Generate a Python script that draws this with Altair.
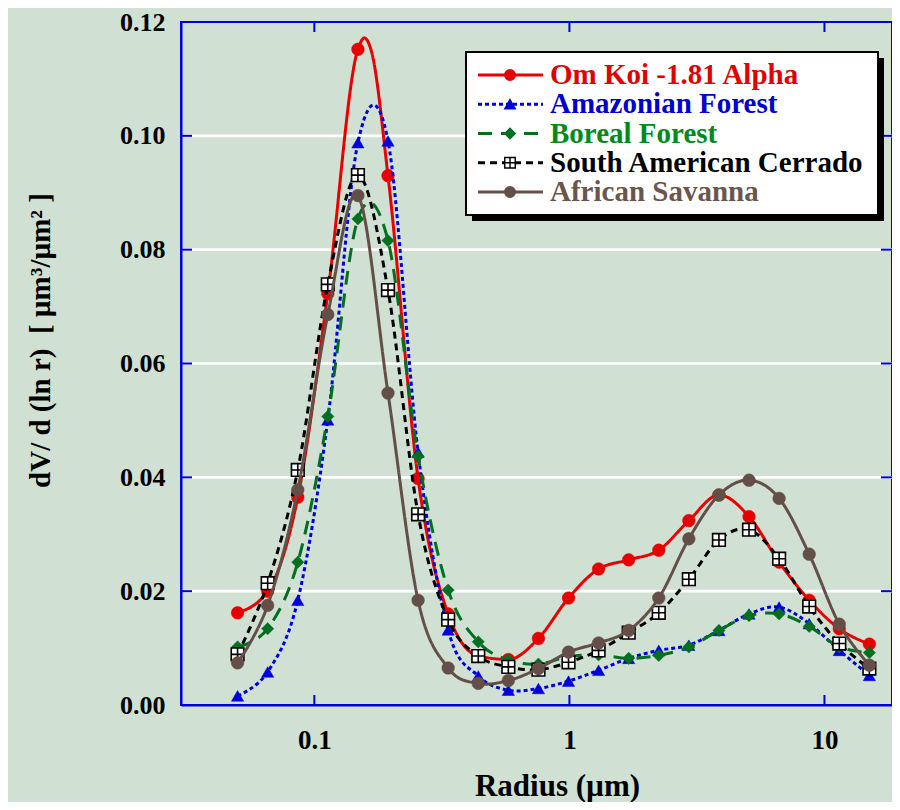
import altair as alt
import pandas as pd

# radius bins (um) where the markers sit
radius = [0.05, 0.0656, 0.0861, 0.1129, 0.1482, 0.1944, 0.2551, 0.3347, 0.4392,
          0.5762, 0.7561, 0.992, 1.3016, 1.7078, 2.2407, 2.94, 3.8575, 5.0613,
          6.6407, 8.7131, 11.4323, 15.0]

# dV/dlnr, one list per series
om_koi = [0.0162, 0.0200, 0.0365, 0.0723, 0.1152, 0.0930, 0.0398, 0.0160, 0.0086,
          0.0080, 0.0117, 0.0188, 0.0239, 0.0255, 0.0272, 0.0324, 0.0369, 0.0331,
          0.0251, 0.0184, 0.0134, 0.0107]
amazon = [0.0016, 0.0058, 0.0184, 0.0501, 0.0988, 0.0991, 0.0444, 0.0132, 0.0051,
          0.0026, 0.0029, 0.0042, 0.0061, 0.0082, 0.0096, 0.0105, 0.0131, 0.0160,
          0.0172, 0.0143, 0.0096, 0.0052]
boreal = [0.0102, 0.0134, 0.0251, 0.0507, 0.0854, 0.0816, 0.0437, 0.0202, 0.0111,
          0.0079, 0.0072, 0.0085, 0.0088, 0.0082, 0.0087, 0.0102, 0.0131, 0.0157,
          0.0160, 0.0138, 0.0102, 0.0092]
cerrado = [0.0089, 0.0214, 0.0413, 0.0739, 0.0931, 0.0729, 0.0335, 0.0150, 0.0086,
           0.0067, 0.0062, 0.0075, 0.0096, 0.0127, 0.0162, 0.0221, 0.0290, 0.0308,
           0.0257, 0.0173, 0.0108, 0.0064]
savanna = [0.0074, 0.0175, 0.0378, 0.0686, 0.0895, 0.0548, 0.0184, 0.0065, 0.0038,
           0.0043, 0.0064, 0.0093, 0.0109, 0.0131, 0.0188, 0.0292, 0.0369, 0.0395,
           0.0363, 0.0265, 0.0142, 0.0070]

# the Om Koi curve has two extra (unmarked) vertices at its peak
om_koi_peak_r = [0.157, 0.168]
om_koi_peak_v = [0.1172, 0.1146]

names = ["Om Koi -1.81 Alpha", "Amazonian Forest", "Boreal Forest",
         "South American Cerrado", "African Savanna"]
y_ticks = [0.0, 0.02, 0.04, 0.06, 0.08, 0.10, 0.12]
grid_values = [0.02, 0.04, 0.06, 0.08, 0.10]
x_ticks = [0.1, 1, 10]

# styles
line_colors = ["#e60000", "#0000dd", "#007020", "#000000", "#644e48"]
text_colors = ["#e00000", "#0000cc", "#008a1a", "#000000", "#6b564e"]
dashes = [[1, 0], [4, 3], [14, 9], [7, 5], [1, 0]]
curves = ["monotone", "cardinal", "cardinal", "cardinal", "cardinal"]
SQ_CROSS = "M-1,-1H1V1H-1Z M0,-1V1 M-1,0H1"
shapes = ["circle", "triangle-up", "diamond", SQ_CROSS, "circle"]
fills = ["#e60000", "#0000dd", "#007020", "#ffffff", "#644e48"]
strokes = ["#e60000", "#0000dd", "#007020", "#000000", "#644e48"]
sizes = [160, 150, 150, 160, 160]

W, H = 711, 683
AXIS_BLUE = "#0000dd"
FONT = "Liberation Serif"
BG = "#d0e0d3"

x_scale = alt.Scale(type="log", domain=[0.03, 18.4], nice=False)
y_scale = alt.Scale(domain=[0, 0.12], nice=False, zero=True)

y_axis = alt.Axis(values=y_ticks, format=".2f", grid=False, ticks=False,
                  domainColor=AXIS_BLUE, domainWidth=2, zindex=1,
                  labelFont=FONT, labelFontSize=26, labelFontWeight="bold",
                  labelColor="black", labelPadding=16, labelFlush=False,
                  labelOverlap=False,
                  title="dV/ d (ln r) \u00a0[ µm³/µm² ]", titleFont=FONT,
                  titleFontSize=29, titleFontWeight="bold", titleColor="black",
                  titleX=-141, titleY=318, titleAngle=270, titleAlign="center",
                  titleBaseline="middle")
x_axis = alt.Axis(values=x_ticks, format="~g", grid=False, ticks=False,
                  domainColor=AXIS_BLUE, domainWidth=2, zindex=1,
                  labelFont=FONT, labelFontSize=27, labelFontWeight="bold",
                  labelColor="black", labelPadding=22, labelFlush=False,
                  labelOverlap=False,
                  title="Radius (µm)", titleFont=FONT, titleFontSize=31,
                  titleFontWeight="bold", titleColor="black",
                  titleX=376, titleY=90, titleAlign="center",
                  titleBaseline="alphabetic")


def xe(field):
    return alt.X(field, scale=x_scale, axis=x_axis)


def ye(field):
    return alt.Y(field, scale=y_scale, axis=y_axis)


# white horizontal gridlines
grid = alt.Chart(pd.DataFrame({"v": grid_values})).mark_rule(
    color="white", strokeWidth=2.6
).encode(y=ye("v:Q"), x=alt.value(0), x2=alt.value(W))

layers = [grid]

series = [om_koi, amazon, boreal, cerrado, savanna]
for i, (name, vals) in enumerate(zip(names, series)):
    df = pd.DataFrame({"r": radius, "v": vals, "marked": True})
    if i == 0:
        extra = pd.DataFrame({"r": om_koi_peak_r, "v": om_koi_peak_v, "marked": False})
        df = pd.concat([df, extra]).sort_values("r")
    line = alt.Chart(df).mark_line(
        color=line_colors[i], strokeWidth=3, strokeDash=dashes[i],
        interpolate=curves[i]
    ).encode(x=xe("r:Q"), y=ye("v:Q"), order="r:Q")
    pts = alt.Chart(df[df["marked"]]).mark_point(
        shape=shapes[i], size=sizes[i], filled=True, fill=fills[i],
        stroke=strokes[i], strokeWidth=1.6 if i == 3 else 0.5, opacity=1
    ).encode(x=xe("r:Q"), y=ye("v:Q"))
    layers += [line, pts]

# inward ticks on all four sides
y_df = pd.DataFrame({"v": y_ticks})
x_df = pd.DataFrame({"r": x_ticks})
tick_left = alt.Chart(y_df).mark_rule(color=AXIS_BLUE, strokeWidth=2).encode(
    y=ye("v:Q"), x=alt.value(0), x2=alt.value(11))
tick_right = alt.Chart(y_df).mark_rule(color=AXIS_BLUE, strokeWidth=2).encode(
    y=ye("v:Q"), x=alt.value(W - 11), x2=alt.value(W))
tick_bottom = alt.Chart(x_df).mark_rule(color=AXIS_BLUE, strokeWidth=2).encode(
    x=xe("r:Q"), y=alt.value(H - 10), y2=alt.value(H))
tick_top = alt.Chart(x_df).mark_rule(color=AXIS_BLUE, strokeWidth=2).encode(
    x=xe("r:Q"), y=alt.value(0), y2=alt.value(10))
layers += [tick_left, tick_right, tick_bottom, tick_top]

main = alt.layer(*layers)

# hand-built legend box
leg_df = pd.DataFrame({"name": names, "row": list(range(len(names))),
                       "line_color": line_colors, "text_color": text_colors})
leg_y = alt.Y("row:Q", scale=alt.Scale(domain=[0, 4], range=[53, 170]), axis=None)
one = pd.DataFrame({"box": [0]})

shadow = alt.Chart(one).mark_rect(color="black").encode(
    x=alt.value(291), x2=alt.value(703), y=alt.value(36), y2=alt.value(199))
box = alt.Chart(one).mark_rect(fill="white", stroke="black", strokeWidth=2).encode(
    x=alt.value(285), x2=alt.value(697), y=alt.value(30), y2=alt.value(193))
leg_lines = alt.Chart(leg_df).mark_rule(strokeWidth=3).encode(
    y=leg_y, x=alt.value(297), x2=alt.value(362),
    color=alt.Color("line_color:N", scale=None),
    strokeDash=alt.StrokeDash("name:N", scale=alt.Scale(domain=names, range=dashes),
                              legend=None))
leg_pts = alt.Chart(leg_df).mark_point(opacity=1, size=110, strokeWidth=1.4).encode(
    y=leg_y, x=alt.value(329),
    shape=alt.Shape("name:N", scale=alt.Scale(domain=names, range=shapes), legend=None),
    fill=alt.Fill("name:N", scale=alt.Scale(domain=names, range=fills), legend=None),
    stroke=alt.Stroke("name:N", scale=alt.Scale(domain=names, range=strokes), legend=None))
leg_text = alt.Chart(leg_df).mark_text(
    align="left", baseline="middle", font=FONT, fontSize=29, fontWeight="bold"
).encode(
    y=leg_y, x=alt.value(369), text="name:N",
    color=alt.Color("text_color:N", scale=None))

legend = alt.layer(shadow, box, leg_lines, leg_pts, leg_text)

chart = alt.layer(main, legend).resolve_scale(
    y="independent"
).properties(
    width=W, height=H,
    autosize=alt.AutoSizeParams(type="none"),
    padding={"left": 173, "top": 14, "right": 0, "bottom": 97},
    background=BG
).configure_view(
    stroke=AXIS_BLUE, strokeWidth=2, fill=BG
)

chart.save("out.html", embed_options={"renderer": "svg", "actions": False})
